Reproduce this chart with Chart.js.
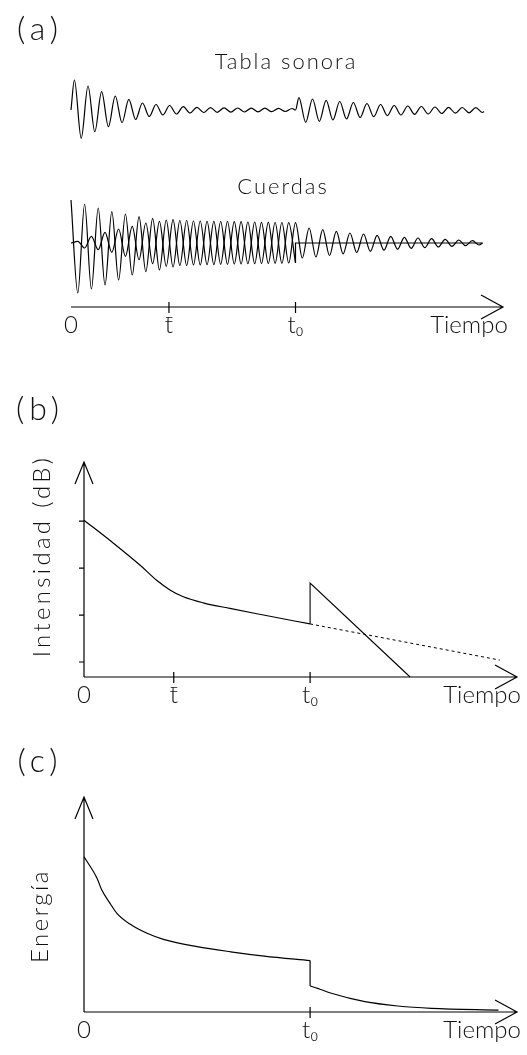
<!DOCTYPE html>
<html>
<head>
<meta charset="utf-8">
<script src="https://cdn.jsdelivr.net/npm/chart.js@4/dist/chart.umd.min.js"></script>
<style>
  body { margin: 0; background: #fff; overflow: hidden; }
  .panel { position: absolute; left: 0; width: 527px; }
</style>
</head>
<body>
<div class="panel" style="top:0;height:350px"><canvas id="chartA"></canvas></div>
<div class="panel" style="top:370px;height:345px"><canvas id="chartB"></canvas></div>
<div class="panel" style="top:715px;height:340px"><canvas id="chartC"></canvas></div>

<script>
// time is counted in half periods of the oscillation; t0 = instant the key is released
const T0 = 33;
const T_BAR_A = 14.4;
const T_BAR_B = 13.1;

// (a) Tabla sonora: value at each extremum, before t0 (t = 0.5 ... 32.5) and after (t = 33.5 ... 60.5)
const tablaAntes = [30, -28.3, 24, -21.7, 18.3, -16.7, 14, -12.7, 10.7, -9.5, 7, -6.5, 5.5, -5, 4.5, -4, 3.3,
  -3, 2.7, -2.5, 2.4, -2.3, 2.2, -2.1, 2, -2, 1.9, -1.8, 1.8, -1.7, 1.6, -1.5, 1.5];
const tablaDespues = [12.3, -12.3, 11, -11.3, 9.7, -10, 8.5, -9, 7.5, -7.5, 6.5, -6.7, 5.5, -5.7, 4.5, -5,
  4, -4.3, 3.5, -4, 3, -3.5, 2.7, -3.2, 2.5, -2.8, 2.3, -2.5];
const tablaFin = -1.5;

// (a) Cuerdas: the two strings, extrema at t = 0, 1, 2 ...
const cuerda1 = [43, -50, 39, -46, 35, -42, 31.3, -37, 29, -32, 26.3, -28.7, 24.7, -27, 23, -24, 22.5,
  -22.5, 22, -22, 21.7, -21.7, 21.5, -21.3, 21.3, -21, 21, -20.7, 20.7, -20.5, 20.5, -20.3, 20.3, -20];
const cuerda2 = [0, 1.7, -5, 6.7, -6.7, 10.7, -9.3, 14, -13.3, 16.7, -16.7, 20, -20.7, 21.7, -23.3, 23.3,
  -22.5, 22.5, -22, 22, -21.7, 21.7, -21.3, 21.5, -21, 21.3, -20.7, 21, -20.5, 20.7, -20.3, 20.5, -20, 20.3,
  -15, 15, -14, 13.3, -12.5, 11.7, -10.8, 10, -9.5, 9, -8.3, 7.7, -7.2, 6.7, -6.2, 5.7, -5.3, 5, -4.7, 4.3,
  -4, 3.7, -3.3, 3, -2.7, 2.3, -2];
const T_FIN_A = 60.5;

// (b) Intensidad (dB)
const tiempoB = [0, 4.3, 8.2, 10.6, 12.6, 14.5, 17.4, 21.3, 26.2, 33];
const intensidadB = [40.2, 35.3, 30.6, 27.4, 25.3, 23.9, 22.6, 21.4, 20, 18.1];
const tiempoRecta = [33, 33, 47.6];
const intensidadRecta = [18.1, 26.8, 6.8];
const tiempoTrazos = [33, 60.7];
const intensidadTrazos = [18.1, 10.4];
const ticksIntensidad = [10, 20, 30, 40];

// (c) Energía
const tiempoC1 = [0, 1.9, 2.6, 3.8, 4.8, 6.7, 9.2, 11.6, 16.5, 21.4, 26.3, 33];
const energiaC1 = [72.2, 62.2, 56.7, 50.5, 45.9, 40.9, 36.6, 33.8, 30.4, 28.0, 26.0, 23.9];
const tiempoC2 = [33, 34.1, 36.1, 41, 45.8, 50.7, 60.5];
const energiaC2 = [12.1, 11.0, 8.7, 4.8, 2.8, 1.7, 0.9];

// vertical offsets of the two traces in panel (a)
const BASE_TABLA = 197;
const BASE_CUERDAS = 64;

const FONT = 'Lato, "DejaVu Sans", sans-serif';
const zip = (xs, ys) => xs.map((x, i) => ({ x: x, y: ys[i] }));

// axes with arrows, crossing tick marks and free texts
const decor = {
  id: 'decor',
  afterDatasetsDraw(chart, args, o) {
    const ctx = chart.ctx;
    const xs = chart.scales.x, ys = chart.scales.y;
    const x0 = xs.getPixelForValue(xs.min), x1 = xs.getPixelForValue(xs.max);
    const yAx = ys.getPixelForValue(ys.min);
    ctx.save();
    ctx.strokeStyle = '#000';
    ctx.lineWidth = 1.2;
    ctx.beginPath();
    ctx.moveTo(x0, yAx); ctx.lineTo(x1, yAx);
    ctx.moveTo(x1 - 22, yAx - 12); ctx.lineTo(x1, yAx); ctx.lineTo(x1 - 22, yAx + 12);
    (o.xTicks || []).forEach(v => {
      const p = xs.getPixelForValue(v);
      ctx.moveTo(p, yAx - 5); ctx.lineTo(p, yAx + 6);
    });
    if (o.yAxis) {
      const yTop = ys.getPixelForValue(ys.max);
      ctx.moveTo(x0, yAx); ctx.lineTo(x0, yTop);
      ctx.moveTo(x0 - 9, yTop + 22); ctx.lineTo(x0, yTop); ctx.lineTo(x0 + 9, yTop + 22);
      (o.yTicks || []).forEach(v => {
        const p = ys.getPixelForValue(v);
        ctx.moveTo(x0 - 5, p); ctx.lineTo(x0, p);
      });
    }
    ctx.stroke();
    ctx.fillStyle = '#111';
    ctx.textAlign = 'center';
    ctx.textBaseline = 'middle';
    (o.texts || []).forEach(t => {
      ctx.save();
      ctx.font = '300 ' + t.size + 'px ' + FONT;
      ctx.letterSpacing = (t.spacing || 0) + 'px';
      ctx.translate(t.x, t.y);
      if (t.rot) ctx.rotate(t.rot);
      ctx.fillText(t.text, 0, 0);
      ctx.restore();
    });
    ctx.restore();
  }
};

function makeOptions(cfg) {
  return {
    responsive: true,
    maintainAspectRatio: false,
    animation: false,
    layout: { padding: cfg.padding },
    plugins: { legend: { display: false }, tooltip: { enabled: false }, decor: cfg.decor },
    elements: {
      point: { radius: 0 },
      line: { borderColor: '#000', borderWidth: 1.2, cubicInterpolationMode: 'monotone' }
    },
    scales: {
      x: {
        type: 'linear', min: 0, max: cfg.xMax,
        grid: { display: false, drawTicks: false },
        border: { display: false },
        afterFit: s => { s.height = cfg.axisHeight; },
        afterBuildTicks: s => { s.ticks = cfg.tickVals.map(v => ({ value: v })); },
        ticks: {
          autoSkip: false, maxRotation: 0, padding: 4, color: '#111',
          font: { family: FONT, size: 24, weight: '300' },
          callback: (v, i) => cfg.tickLabels[i]
        }
      },
      y: { type: 'linear', display: false, min: cfg.yMin, max: cfg.yMax }
    }
  };
}

const lineDs = (data, extra) => Object.assign({ data: data, fill: false, clip: false }, extra || {});

// ---------- (a)
const tablaPts = [{ x: 0, y: BASE_TABLA }]
  .concat(tablaAntes.map((a, i) => ({ x: 0.5 + i, y: BASE_TABLA + a })))
  .concat([{ x: T0, y: BASE_TABLA }])
  .concat(tablaDespues.map((a, i) => ({ x: T0 + 0.5 + i, y: BASE_TABLA + a })))
  .concat([{ x: T_FIN_A + 0.2, y: BASE_TABLA + tablaFin }]);
const cuerda1Pts = cuerda1.map((a, i) => ({ x: i, y: BASE_CUERDAS + a }));
const cuerda1Fin = [
  { x: T0, y: BASE_CUERDAS + cuerda1[cuerda1.length - 1] },
  { x: T0, y: BASE_CUERDAS },
  { x: T_FIN_A, y: BASE_CUERDAS }
];
const cuerda2Pts = cuerda2.map((a, i) => ({ x: i, y: BASE_CUERDAS + a }))
  .concat([{ x: T_FIN_A, y: BASE_CUERDAS }]);

new Chart(document.getElementById('chartA'), {
  type: 'line',
  data: {
    datasets: [
      lineDs(tablaPts),
      lineDs(cuerda1Pts),
      lineDs(cuerda1Fin, { cubicInterpolationMode: 'default', tension: 0 }),
      lineDs(cuerda2Pts)
    ]
  },
  options: makeOptions({
    padding: { top: 57, left: 71, right: 24, bottom: 0 },
    axisHeight: 43, xMax: 63.5, yMin: 0, yMax: 250,
    tickVals: [0, T_BAR_A, T0, 58.5],
    tickLabels: ['0', 't\u0304', 't\u2080', 'Tiempo'],
    decor: {
      xTicks: [T_BAR_A, T0],
      texts: [
        { text: '(a)', x: 40, y: 30, size: 32, spacing: 5 },
        { text: 'Tabla sonora', x: 286, y: 62, size: 22, spacing: 2 },
        { text: 'Cuerdas', x: 283, y: 187, size: 22, spacing: 2 }
      ]
    }
  }),
  plugins: [decor]
});

// ---------- (b)
new Chart(document.getElementById('chartB'), {
  type: 'line',
  data: {
    datasets: [
      lineDs(zip(tiempoB, intensidadB)),
      lineDs(zip(tiempoRecta, intensidadRecta), { cubicInterpolationMode: 'default', tension: 0, borderWidth: 1.1 }),
      lineDs(zip(tiempoTrazos, intensidadTrazos), { cubicInterpolationMode: 'default', tension: 0, borderWidth: 1, borderDash: [3, 3] })
    ]
  },
  options: makeOptions({
    padding: { top: 92, left: 84, right: 10, bottom: 0 },
    axisHeight: 38, xMax: 63.2, yMin: 6.8, yMax: 52.6,
    tickVals: [0, T_BAR_B, T0, 58.1],
    tickLabels: ['0', 't\u0304', 't\u2080', 'Tiempo'],
    decor: {
      xTicks: [T_BAR_B, T0],
      yAxis: true,
      yTicks: ticksIntensidad,
      texts: [
        { text: '(b)', x: 40, y: 40, size: 32, spacing: 5 },
        { text: 'Intensidad (dB)', x: 42, y: 186, size: 24, spacing: 3.3, rot: -Math.PI / 2 }
      ]
    }
  }),
  plugins: [decor]
});

// ---------- (c)
new Chart(document.getElementById('chartC'), {
  type: 'line',
  data: {
    datasets: [
      lineDs(zip(tiempoC1, energiaC1)),
      lineDs([{ x: T0, y: energiaC1[energiaC1.length - 1] }, { x: T0, y: energiaC2[0] }],
        { cubicInterpolationMode: 'default', tension: 0 }),
      lineDs(zip(tiempoC2, energiaC2))
    ]
  },
  options: makeOptions({
    padding: { top: 82, left: 84, right: 10, bottom: 0 },
    axisHeight: 43, xMax: 63.2, yMin: 0, yMax: 100,
    tickVals: [0, T0, 58.1],
    tickLabels: ['0', 't\u2080', 'Tiempo'],
    decor: {
      xTicks: [T0],
      yAxis: true,
      texts: [
        { text: '(c)', x: 40, y: 47, size: 32, spacing: 5 },
        { text: 'Energía', x: 40, y: 201, size: 24, spacing: 2.5, rot: -Math.PI / 2 }
      ]
    }
  }),
  plugins: [decor]
});
</script>
</body>
</html>
